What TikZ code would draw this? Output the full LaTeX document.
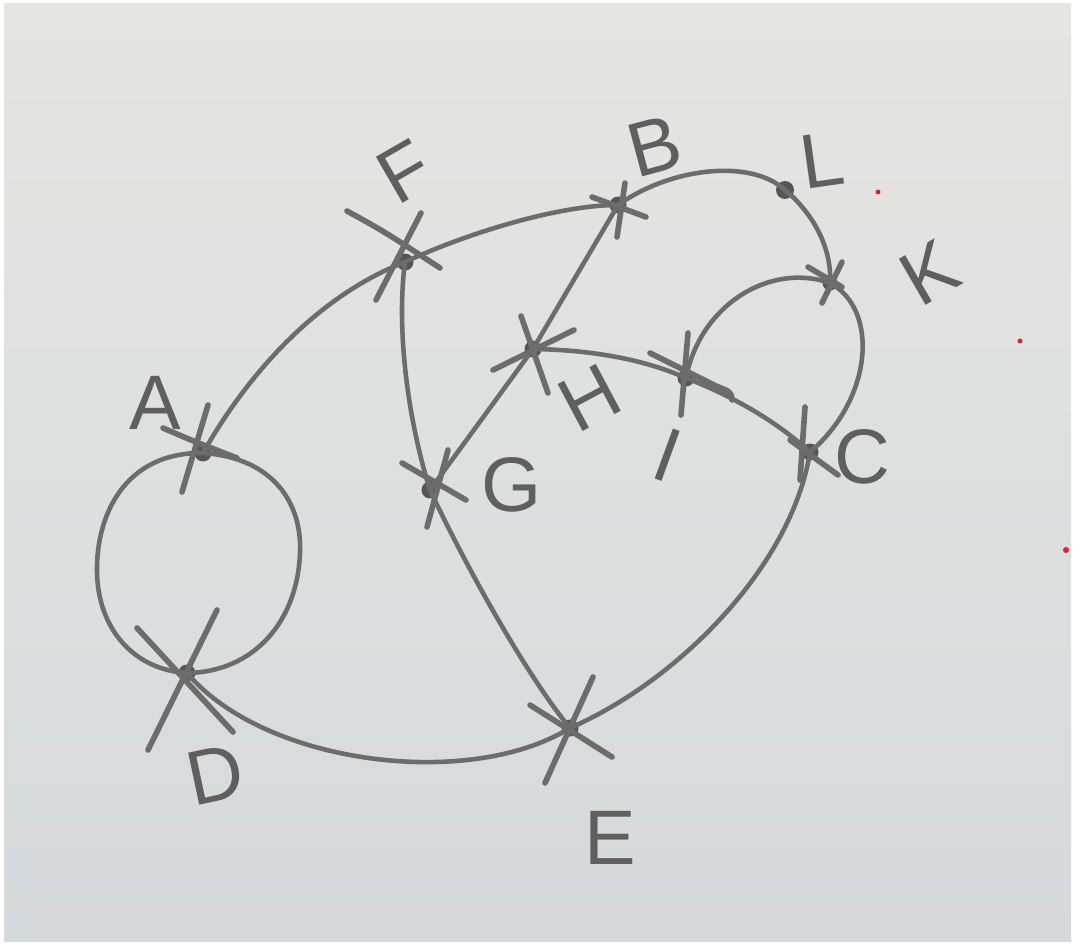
\documentclass[tikz,border=0pt]{standalone}
\usepackage{fontspec}
\setmainfont{Liberation Sans}
\usetikzlibrary{calc}
\definecolor{pencil}{RGB}{108,108,108}
\definecolor{lead}{RGB}{85,85,85}
\definecolor{ink}{RGB}{95,95,95}
\definecolor{paperTop}{RGB}{229,229,227}
\definecolor{paperBot}{RGB}{214,217,219}
\definecolor{speck}{RGB}{215,40,40}
\tikzset{
  edge/.style={draw=pencil, line width=2.6pt, line cap=round},
  tick/.style={draw=pencil, line width=3.2pt, line cap=round},
  dot/.style={circle, fill=lead, inner sep=0pt, minimum size=0.34cm},
  lbl/.style={text=ink, font=\fontsize{44}{48}\selectfont, inner sep=0pt}
}
\begin{document}
\begin{tikzpicture}[x=0.02cm, y=-0.02cm]
\useasboundingbox (0,0) rectangle (1074,945);
\fill[white] (0,0) rectangle (1074,945);
\shade[top color=paperTop, bottom color=paperBot] (4,4) rectangle (1071,941);
\fill[speck] (878,192) circle (2.5);
\fill[speck] (1020,341) circle (2.5);
\fill[speck] (1066,550) circle (3);

% vertices
\node[dot] (A) at (203,453) {};
\node[dot] (B) at (618,205) {};
\node[dot] (C) at (810,452) {};
\node[dot] (D) at (187,673) {};
\node[dot] (E) at (570,728) {};
\node[dot] (F) at (405,262) {};
\node[dot] (G) at (430,490) {};
\node[dot] (H) at (533,349) {};
\node[dot] (I) at (686,378) {};
\node[dot, minimum size=0.3cm] (K) at (830,283) {};
\node[dot, minimum size=0.36cm] (L) at (785,190) {};

% edges
\draw[edge] (A.center) .. controls (250,370) and (320,295) .. (F.center);
\draw[edge] (F.center) .. controls (470,232) and (560,205) .. (B.center);
\draw[edge] (B.center) .. controls (670,168) and (750,158) .. (L.center);
\draw[edge] (L.center) .. controls (815,215) and (832,250) .. (K.center);
\draw[edge] (K.center) .. controls (770,262) and (700,305) .. (I.center);
\draw[edge] (K.center) .. controls (880,310) and (872,400) .. (C.center);
\draw[edge] (H.center) .. controls (600,350) and (650,362) .. (I.center);
\draw[edge] (I.center) .. controls (730,395) and (775,420) .. (C.center);
\draw[edge] (B.center) -- (H.center);
\draw[edge] (H.center) -- (G.center);
\draw[edge] (F.center) .. controls (396,330) and (408,420) .. (G.center);
\draw[edge] (G.center) .. controls (470,575) and (530,680) .. (E.center);
\draw[edge] (C.center) .. controls (792,565) and (680,680) .. (E.center);
\draw[edge] (D.center) .. controls (265,765) and (470,790) .. (E.center);
\draw[edge] (A.center) .. controls (125,452) and (96,515) .. (97,572)
                       .. controls (98,630) and (135,670) .. (D.center);
\draw[edge] (A.center) .. controls (275,458) and (302,505) .. (300,552)
                       .. controls (298,620) and (255,672) .. (D.center);

% tick marks
\draw[tick] ($(F)+(-58,-51)$) .. controls ($(F)+(-20,-30)$) .. ($(F)+(35,6)$);
\draw[tick] ($(F)+(16,-49)$) -- ($(F)+(-29,38)$);
\draw[tick] ($(B)+(-26,-8)$) -- ($(B)+(28,12)$);
\draw[tick] ($(B)+(7,-22)$) -- ($(B)+(-1,32)$);
\draw[tick] ($(K)+(-22,-16)$) -- ($(K)+(12,4)$);
\draw[tick] ($(K)+(12,-21)$) -- ($(K)+(-8,20)$);
\draw[tick] ($(H)+(-12,-33)$) -- ($(H)+(15,44)$);
\draw[tick] ($(H)+(-40,21)$) -- ($(H)+(41,-19)$);
\draw[tick] ($(I)+(-36,-25)$) -- ($(I)+(30,8)$) .. controls ($(I)+(45,14)$) .. ($(I)+(46,22)$);
\draw[tick] ($(I)+(2,-45)$) -- ($(I)+(-5,37)$);
\draw[tick] ($(C)+(-5,-45)$) -- ($(C)+(-10,28)$);
\draw[tick] ($(C)+(-20,-12)$) -- ($(C)+(28,23)$);
\draw[tick] ($(G)+(-28,-27)$) -- ($(G)+(36,10)$);
\draw[tick] ($(G)+(18,-40)$) -- ($(G)+(-3,37)$);
\draw[tick] ($(A)+(5,-48)$) -- ($(A)+(-21,39)$);
\draw[tick] ($(A)+(-40,-25)$) .. controls ($(A)+(-10,-12)$) .. ($(A)+(34,5)$);
\draw[tick] ($(D)+(30,-63)$) -- ($(D)+(-39,77)$);
\draw[tick] ($(D)+(-50,-45)$) -- ($(D)+(46,59)$);
\draw[tick] ($(E)+(23,-51)$) -- ($(E)+(-25,55)$);
\draw[tick] ($(E)+(-40,-23)$) -- ($(E)+(42,29)$);

% labels
\node[lbl, rotate=30] (tF) at (405,172) {F};
\node[lbl, rotate=15] (tB) at (655,146) {B};
\node[lbl, rotate=8] (tL) at (822,160) {L};
\node[lbl, rotate=30] (tK) at (930,273) {K};
\node[lbl] (tA) at (155,403) {A};
\node[lbl, rotate=28] (tH) at (590,398) {H};
\node[lbl] (tG) at (512,485) {G};
\node[lbl, rotate=-20] (tI) at (668,455) {I};
\node[lbl] (tC) at (862,457) {C};
\node[lbl, rotate=12] (tD) at (215,775) {D};
\node[lbl] (tE) at (610,838) {E};
\end{tikzpicture}
\end{document}
